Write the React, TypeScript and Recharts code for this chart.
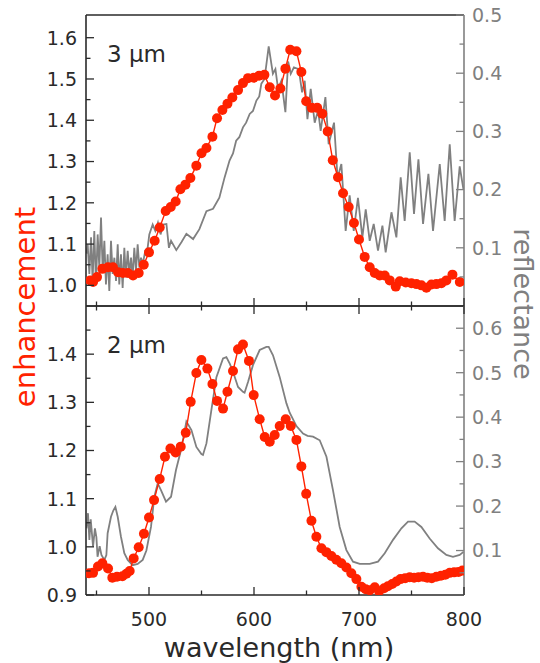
import React from "react";
import { LineChart, Line, XAxis, YAxis, Label } from "recharts";

// ---- data ----
// enhancement, 3 um grating: [wavelength nm, enhancement]
const enh3um: [number, number][] = [
  [444, 1.012], [446.7, 1.008], [450.5, 1.02], [455.6, 1.04], [461, 1.044], [465.7, 1.044],
  [470.5, 1.032], [475.2, 1.03], [480, 1.03], [484.8, 1.024], [490.2, 1.03], [495, 1.05],
  [500, 1.08], [505.4, 1.108], [510.2, 1.14], [515.9, 1.18], [520.7, 1.19], [525.4, 1.203],
  [529.9, 1.233], [534.7, 1.244], [539.4, 1.26], [545.1, 1.29], [550, 1.32], [554.7, 1.333],
  [560.4, 1.36], [564.8, 1.405], [569.9, 1.425], [574.7, 1.44], [579.4, 1.455], [584.8, 1.473],
  [589.5, 1.49], [594.3, 1.502], [599.7, 1.503], [604.8, 1.508], [609.9, 1.51], [615, 1.48],
  [620, 1.46], [625.1, 1.477], [629.9, 1.525], [634.5, 1.571], [640.4, 1.567], [645.1, 1.517],
  [649.7, 1.446], [655, 1.43], [660.2, 1.43], [665, 1.416], [670.2, 1.373], [675, 1.303],
  [680, 1.262], [684.8, 1.223], [690.2, 1.19], [695.2, 1.151], [700, 1.111], [705.4, 1.069],
  [710.2, 1.044], [715, 1.03], [719.7, 1.024], [724.5, 1.024], [729.3, 1.012], [735, 0.997],
  [738.8, 1.01], [744.5, 1.007], [749.9, 1.005], [754.7, 1.003], [759.4, 1.0], [764.2, 0.994],
  [769, 1.002], [773.7, 1.003], [778.5, 1.005], [783.2, 1.012], [789, 1.026], [796, 1.008],
];

// reflectance, 3 um grating: [wavelength nm, reflectance]
const refl3um: [number, number][] = [
  [440.5, 0.09], [441.6, 0.106], [443.2, 0.055], [444.8, 0.118], [446.3, 0.043], [447.9, 0.129],
  [449.5, 0.037], [451.1, 0.123], [452.7, 0.066], [454.3, 0.152], [455.9, 0.06], [457.5, 0.112],
  [459, 0.037], [460.6, 0.089], [462.2, 0.026], [463.8, 0.112], [465.4, 0.055], [467, 0.083],
  [468.6, 0.043], [470.2, 0.106], [471.7, 0.037], [473.3, 0.089], [474.9, 0.031], [476.5, 0.1],
  [478, 0.049], [479.7, 0.095], [481.3, 0.055], [482.9, 0.083], [484.4, 0.049], [486, 0.1],
  [487.6, 0.06], [489.2, 0.106], [490.8, 0.066], [492.4, 0.083], [494, 0.072], [496.5, 0.095],
  [498.7, 0.1], [500.3, 0.123], [503.5, 0.14], [506, 0.129], [508.5, 0.143], [511, 0.123],
  [513.5, 0.14], [516.6, 0.141], [519, 0.1], [521, 0.112], [526, 0.096], [531, 0.11],
  [535.6, 0.124], [542, 0.115], [548, 0.132], [554.7, 0.163], [561, 0.167], [567, 0.186],
  [572, 0.221], [576.7, 0.25], [580, 0.262], [583, 0.284], [586, 0.29], [589.5, 0.307],
  [592.5, 0.315], [595.9, 0.33], [599, 0.335], [602.3, 0.353], [605, 0.36], [607, 0.382],
  [610, 0.39], [614, 0.446], [618, 0.399], [620.4, 0.407], [622.9, 0.373], [626.1, 0.387],
  [629.9, 0.333], [632.5, 0.42], [635, 0.399], [638, 0.41], [642.6, 0.407], [645.8, 0.367],
  [648.3, 0.387], [650.9, 0.321], [654, 0.373], [657.8, 0.315], [661, 0.336], [663.5, 0.301],
  [668, 0.359], [671.1, 0.278], [676.2, 0.315], [679.6, 0.22], [683.2, 0.244], [687.3, 0.129],
  [691.1, 0.19], [695, 0.129], [699, 0.186], [703.2, 0.118], [706.4, 0.166], [710.2, 0.112],
  [714, 0.141], [718.1, 0.095], [722.3, 0.138], [725.4, 0.092], [730.9, 0.161], [735.6, 0.118],
  [739.7, 0.221], [743.5, 0.146], [748.3, 0.264], [752.4, 0.158], [756.6, 0.252], [761, 0.141],
  [766.1, 0.227], [770.5, 0.129], [776.9, 0.244], [781.6, 0.146], [786.4, 0.278], [791.1, 0.146],
  [795.9, 0.24], [799.5, 0.2],
];

// enhancement, 2 um grating
const enh2um: [number, number][] = [
  [442.9, 0.945], [446.7, 0.946], [451.4, 0.959], [455.6, 0.966], [461, 0.955], [465.1, 0.936],
  [469.5, 0.938], [474.7, 0.939], [478.5, 0.944], [481.6, 0.95], [485.4, 0.976], [490.2, 0.999],
  [495.2, 1.027], [500, 1.061], [504.8, 1.097], [510.2, 1.141], [515.2, 1.187], [520.4, 1.204],
  [525.4, 1.196], [530.2, 1.208], [535, 1.237], [539.7, 1.301], [545.1, 1.361], [549.9, 1.388],
  [555.6, 1.37], [560.4, 1.338], [564.8, 1.303], [570.5, 1.287], [574.7, 1.322], [580, 1.365],
  [584.8, 1.41], [589.5, 1.42], [595.2, 1.386], [599.7, 1.315], [605.4, 1.265], [610.2, 1.228],
  [615, 1.218], [619.7, 1.232], [624.5, 1.251], [630.2, 1.265], [635, 1.251], [640.4, 1.222],
  [645.1, 1.167], [649.7, 1.11], [654.7, 1.054], [659.4, 1.021], [664.2, 0.997], [668.9, 0.989],
  [673.7, 0.981], [678.4, 0.973], [683.2, 0.966], [688, 0.957], [692.7, 0.945], [697.5, 0.933],
  [702.3, 0.917], [706.4, 0.912], [710.2, 0.91], [715, 0.916], [719.1, 0.908], [723.9, 0.914],
  [727.5, 0.918], [731.6, 0.923], [735.6, 0.928], [739.5, 0.933], [744, 0.935], [748.3, 0.937],
  [752.5, 0.936], [756.7, 0.937], [761, 0.938], [765, 0.936], [769.3, 0.935], [773.7, 0.938],
  [778, 0.94], [782.2, 0.942], [786.4, 0.946], [790.6, 0.947], [794.8, 0.948], [798.5, 0.951],
];

// reflectance, 2 um grating
const refl2um: [number, number][] = [
  [440.5, 0.15], [441.9, 0.184], [443.2, 0.124], [444.5, 0.17], [446.7, 0.109], [448.5, 0.15],
  [449.9, 0.13], [451, 0.086], [453, 0.11], [454.7, 0.09], [457.5, 0.079], [459.4, 0.09],
  [460.6, 0.139], [463.8, 0.176], [466, 0.19], [468, 0.198], [470.2, 0.176], [473.3, 0.131],
  [476.5, 0.094], [479.7, 0.079], [484.4, 0.067], [489.2, 0.07], [494, 0.079], [497.5, 0.1],
  [501.9, 0.153], [505.1, 0.221], [508.3, 0.251], [511.4, 0.236], [516.2, 0.21], [521, 0.221],
  [525.7, 0.281], [530.5, 0.326], [535.6, 0.39], [540.4, 0.371], [545.1, 0.333], [549.9, 0.317],
  [551.4, 0.315], [554.7, 0.341], [559.4, 0.416], [564.2, 0.49], [570.5, 0.532], [573.7, 0.535],
  [577, 0.52], [580, 0.502], [584.8, 0.468], [589.5, 0.457], [591, 0.455], [594.3, 0.479],
  [599, 0.517], [605.4, 0.551], [611.8, 0.558], [614, 0.558], [618.1, 0.539], [624.5, 0.49],
  [630.9, 0.431], [634, 0.41], [640.4, 0.38], [646.7, 0.363], [651, 0.358], [656.2, 0.356],
  [662.6, 0.348], [669, 0.311], [675.2, 0.236], [681.6, 0.153], [688, 0.101], [694.3, 0.075],
  [700.7, 0.07], [710.2, 0.07], [718.1, 0.075], [724.5, 0.094], [732.4, 0.124], [740.4, 0.15],
  [746.7, 0.165], [753, 0.165], [759.4, 0.153], [767.3, 0.127], [775.2, 0.105], [783.2, 0.09],
  [789.5, 0.086], [795.9, 0.09], [799.5, 0.097],
];

// ---- axes ----
const xMajor = [500, 600, 700, 800];
const xMinor = [450, 550, 650, 750];
const topEnhMajor = [1.0, 1.1, 1.2, 1.3, 1.4, 1.5, 1.6];
const topEnhMinor = [1.05, 1.15, 1.25, 1.35, 1.45, 1.55];
const topReflMajor = [0.1, 0.2, 0.3, 0.4, 0.5];
const topReflMinor = [0.05, 0.15, 0.25, 0.35, 0.45];
const botEnhMajor = [0.9, 1.0, 1.1, 1.2, 1.3, 1.4];
const botEnhMinor = [0.95, 1.05, 1.15, 1.25, 1.35, 1.45];
const botReflMajor = [0.1, 0.2, 0.3, 0.4, 0.5, 0.6];
const botReflMinor = [0.05, 0.15, 0.25, 0.35, 0.45, 0.55];

const W = 540;
const H = 663;
const FONT = "'DejaVu Sans', sans-serif";
const RED = "#ff2200";
const GREY = "#808080";
const INK = "#2a2a2a";

const toRows = (pts: [number, number][]) => pts.map(([x, v]) => ({ x, v }));

type Side = "left" | "right" | "bottom" | "top";

function AxisTick(props: any) {
  const { x, y, payload, side, majors, color, showLabel, digits } = props;
  const v = payload.value as number;
  const major = majors.some((m: number) => Math.abs(m - v) < 1e-6);
  const len = major ? 8 : 4.5;
  const s = side as Side;
  let line;
  if (s === "left") line = { x1: x, x2: x + len, y1: y, y2: y };
  else if (s === "right") line = { x1: x, x2: x - len, y1: y, y2: y };
  else if (s === "bottom") line = { x1: x, x2: x, y1: y, y2: y - len };
  else line = { x1: x, x2: x, y1: y, y2: y + len };
  const txt = v.toFixed(digits);
  return (
    <g>
      <line {...line} stroke={color} strokeWidth={1.3} />
      {showLabel && major && s === "left" && (
        <text x={x - 9} y={y} dy="0.36em" textAnchor="end" fill={color} fontSize={19} fontFamily={FONT}>
          {txt}
        </text>
      )}
      {showLabel && major && s === "right" && (
        <text x={x + 8} y={y} dy="0.36em" textAnchor="start" fill={color} fontSize={19} fontFamily={FONT}>
          {txt}
        </text>
      )}
      {showLabel && major && s === "bottom" && (
        <text x={x} y={y + 31} textAnchor="middle" fill={color} fontSize={19} fontFamily={FONT}>
          {txt}
        </text>
      )}
    </g>
  );
}

function Panel({
  top, bottom, enh, refl, enhDomain, reflDomain, enhMajor, enhMinor, reflMajor, reflMinor, tag, isBottom,
}: {
  top: number; bottom: number; enh: [number, number][]; refl: [number, number][];
  enhDomain: [number, number]; reflDomain: [number, number];
  enhMajor: number[]; enhMinor: number[]; reflMajor: number[]; reflMinor: number[];
  tag: string; isBottom: boolean;
}) {
  // axes of zero height are not drawn, so the frame axes get 1px
  const xAxisH = isBottom ? H - bottom : 1;
  return (
    <div style={{ position: "absolute", left: 0, top: 0 }}>
      <LineChart
        width={W}
        height={H}
        margin={{ top: top - 1, right: 0, bottom: isBottom ? 0 : H - bottom - 1, left: 0 }}
      >
        <XAxis
          xAxisId="b"
          type="number"
          dataKey="x"
          domain={[440, 800]}
          allowDataOverflow
          ticks={[...xMajor, ...xMinor]}
          interval={0}
          height={xAxisH}
          tickSize={0}
          tickMargin={0}
          tickLine={false}
          axisLine={{ stroke: INK, strokeWidth: 1.6 }}
          tick={<AxisTick side="bottom" majors={xMajor} color={INK} showLabel={isBottom} digits={0} />}
        >
          {isBottom && (
            <Label
              content={({ viewBox }: any) => (
                <text
                  x={viewBox.x + viewBox.width / 2 + 4}
                  y={viewBox.y + viewBox.height - 6}
                  textAnchor="middle"
                  fill={INK}
                  fontSize={27}
                  fontFamily={FONT}
                >
                  wavelength (nm)
                </text>
              )}
            />
          )}
        </XAxis>
        <XAxis
          xAxisId="t"
          orientation="top"
          type="number"
          dataKey="x"
          domain={[440, 800]}
          allowDataOverflow
          ticks={[...xMajor, ...xMinor]}
          interval={0}
          height={1}
          tickSize={0}
          tickMargin={0}
          tickLine={false}
          axisLine={{ stroke: INK, strokeWidth: 1.6 }}
          tick={isBottom ? <AxisTick side="top" majors={xMajor} color={INK} showLabel={false} digits={0} /> : false}
        >
          <Label
            content={({ viewBox }: any) => (
              <text x={viewBox.x + 21} y={viewBox.y + viewBox.height + 47} fill={INK} fontSize={23} fontFamily={FONT}>
                {tag}
              </text>
            )}
          />
        </XAxis>
        <YAxis
          yAxisId="l"
          type="number"
          domain={enhDomain}
          allowDataOverflow
          ticks={[...enhMajor, ...enhMinor]}
          interval={0}
          width={86}
          tickSize={0}
          tickMargin={0}
          tickLine={false}
          axisLine={{ stroke: INK, strokeWidth: 1.6 }}
          tick={<AxisTick side="left" majors={enhMajor} color={INK} showLabel digits={1} />}
        >
          {!isBottom && (
            <Label
              content={({ viewBox }: any) => {
                const cx = 25;
                const cy = viewBox.y + viewBox.height + 1;
                return (
                  <text
                    x={cx}
                    y={cy}
                    dy="0.35em"
                    transform={`rotate(-90, ${cx}, ${cy})`}
                    textAnchor="middle"
                    fill={RED}
                    fontSize={29}
                    fontFamily={FONT}
                  >
                    enhancement
                  </text>
                );
              }}
            />
          )}
        </YAxis>
        <YAxis
          yAxisId="r"
          orientation="right"
          type="number"
          domain={reflDomain}
          allowDataOverflow
          ticks={[...reflMajor, ...reflMinor]}
          interval={0}
          width={76}
          tickSize={0}
          tickMargin={0}
          tickLine={false}
          axisLine={{ stroke: GREY, strokeWidth: 1.6 }}
          tick={<AxisTick side="right" majors={reflMajor} color={GREY} showLabel digits={1} />}
        >
          {!isBottom && (
            <Label
              content={({ viewBox }: any) => {
                const cx = 523;
                const cy = viewBox.y + viewBox.height - 2;
                return (
                  <text
                    x={cx}
                    y={cy}
                    dy="0.35em"
                    transform={`rotate(90, ${cx}, ${cy})`}
                    textAnchor="middle"
                    fill={GREY}
                    fontSize={27}
                    fontFamily={FONT}
                  >
                    reflectance
                  </text>
                );
              }}
            />
          )}
        </YAxis>
        <Line
          xAxisId="b"
          yAxisId="r"
          data={toRows(refl)}
          dataKey="v"
          stroke={GREY}
          strokeWidth={1.8}
          dot={false}
          isAnimationActive={false}
        />
        <Line
          xAxisId="b"
          yAxisId="l"
          data={toRows(enh)}
          dataKey="v"
          stroke={RED}
          strokeWidth={1.4}
          dot={{ r: 5, fill: RED, stroke: "none" }}
          isAnimationActive={false}
        />
      </LineChart>
    </div>
  );
}

export default function App() {
  return (
    <div style={{ position: "relative", width: W, height: H, background: "#fff" }}>
      <style>{"body{margin:0}"}</style>
      <Panel
        top={15}
        bottom={306}
        enh={enh3um}
        refl={refl3um}
        enhDomain={[0.95, 1.655]}
        reflDomain={[0, 0.5]}
        enhMajor={topEnhMajor}
        enhMinor={topEnhMinor}
        reflMajor={topReflMajor}
        reflMinor={topReflMinor}
        tag="3 μm"
        isBottom={false}
      />
      <Panel
        top={306}
        bottom={595}
        enh={enh2um}
        refl={refl2um}
        enhDomain={[0.9, 1.5]}
        reflDomain={[0, 0.65]}
        enhMajor={botEnhMajor}
        enhMinor={botEnhMinor}
        reflMajor={botReflMajor}
        reflMinor={botReflMinor}
        tag="2 μm"
        isBottom
      />
    </div>
  );
}
